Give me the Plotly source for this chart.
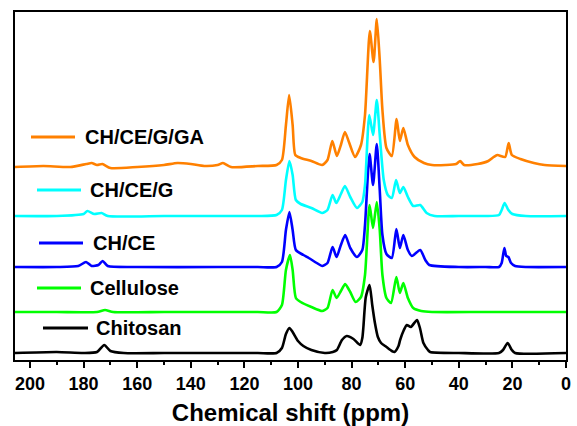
import plotly.graph_objects as go

# ---- data (chemical shift in ppm, intensity in arbitrary stacked units) ----
names = ["Chitosan", "Cellulose", "CH/CE", "CH/CE/G", "CH/CE/G/GA"]
colors = ["#000000", "#00FF00", "#0000FF", "#00FFFF", "#FF8000"]

chitosan_x = [205.6, 190, 180, 175, 172.3, 170, 165, 150, 130, 115, 108, 106, 104.5, 103.2, 102, 100, 98, 95, 90,
              87, 85.5, 83.6, 81.8, 79.3, 76.8, 76, 75.6, 74.7, 73.3, 72.3, 71.3, 70.2, 69, 67, 65, 64,
              62.5, 61.9, 60.5, 59.4, 57.9, 55.6, 54.5, 53.2, 51.5, 50.7, 40, 25, 23.5, 21.8, 20.2, 19, 0]
chitosan_y = [7, 8, 7, 8, 15, 9, 7, 7, 7, 7, 7, 12, 26, 32, 28, 19, 14, 10, 7,
              8, 10, 20, 24, 21, 15, 22, 33, 63, 75, 55, 37, 23, 17, 13, 9, 8,
              14, 20, 30, 35, 33, 40, 32, 17, 10, 8, 7, 7, 10, 17, 10, 7, 7]

cellulose_x = [205.6, 190, 175, 172, 169, 150, 130, 115, 108, 106, 104.5, 103, 102, 100.8, 99, 95, 91,
               89, 87.1, 85.6, 84, 82.4, 80.5, 78.5, 76.5, 75, 73.3, 72, 70.6, 69.5, 68.5, 67, 65.3,
               63.3, 62, 60.7, 59, 57, 54, 50, 30, 0]
cellulose_y = [48, 48, 48, 50, 48, 48, 48, 48, 48, 55, 90, 105, 90, 62, 58, 53, 49,
               52, 70, 62, 69, 76, 68, 58, 63, 85, 155, 132, 158, 130, 85, 62, 57,
               83, 67, 77, 62, 52, 49, 48, 48, 48]

chce_x = [205.6, 190, 182, 179.1, 177, 174.5, 172.9, 171, 160, 130, 115, 108, 106, 104.5, 103.2, 102, 100.8,
          98, 96, 93, 91, 89, 87.1, 85.6, 84, 82.4, 80.5, 78, 76, 75, 73.3, 72, 70.6, 69.5, 68.5, 67, 65,
          63.3, 62, 60.7, 59, 57.5, 54.4, 52.5, 51, 40, 30, 25, 24, 23, 22.3, 21.5, 20.5, 19, 15, 0]
chce_y = [93, 93, 94, 98, 94, 95, 99, 94, 93, 93, 93, 93, 98, 130, 148, 130, 110,
          105, 102, 97, 94, 97, 113, 103, 115, 125, 112, 103, 110, 135, 206, 175, 216, 170, 125, 106, 102,
          131, 112, 125, 110, 104, 110, 100, 95, 93, 93, 93, 97, 112, 104, 103, 97, 94, 93, 93]

chceg_x = [205.6, 190, 180, 178.6, 176, 173.3, 171, 150, 130, 115, 108, 106, 104.5, 103.2, 102, 100.8, 99,
           95, 91, 89, 87.1, 85.7, 84, 82.5, 80.5, 78, 76, 75, 73.4, 72, 70.6, 69.5, 68, 66.5, 65,
           63.4, 62, 60.7, 59, 57, 54.4, 52, 49, 40, 30, 25, 24, 22.9, 21.5, 20, 15, 0]
chceg_y = [144, 144, 146, 149, 146, 147, 144, 144, 144, 144, 145, 150, 180, 199, 185, 160, 156,
           152, 147, 150, 165, 157, 166, 174, 163, 152, 158, 175, 245, 225, 260, 225, 180, 165, 162,
           180, 167, 173, 163, 154, 155, 147, 144, 144, 144, 145, 150, 157, 150, 146, 144, 144]

chcegga_x = [205.6, 195, 185, 179, 177, 175, 173, 170, 160, 150, 145, 140, 135, 130, 128, 125, 115, 108,
             106, 104.5, 103.3, 102, 101, 99, 95, 91, 89, 87.2, 85.5, 84, 82.5, 81, 78.7, 76.5, 75,
             73.2, 71.8, 70.6, 69.5, 68.5, 67, 65, 63.2, 62, 60.7, 59, 56.5, 53, 50, 45, 41, 39.5, 38,
             33, 29, 27, 25.6, 22.7, 21.4, 20.2, 17, 12, 8, 0]
chcegga_y = [193, 194, 193, 196, 197, 195, 196, 192, 193, 195, 197, 196, 194, 195, 197, 193, 194, 195,
             200, 235, 265, 235, 205, 202, 199, 195, 200, 219, 204, 215, 228, 218, 203, 215, 245,
             329, 298, 341, 300, 250, 212, 204, 241, 219, 232, 215, 203, 197, 195, 195, 196, 199, 195,
             196, 199, 203, 205, 203, 217, 205, 201, 197, 195, 194]

xs = [chitosan_x, cellulose_x, chce_x, chceg_x, chcegga_x]
ys = [chitosan_y, cellulose_y, chce_y, chceg_y, chcegga_y]

tick_vals = [200, 180, 160, 140, 120, 100, 80, 60, 40, 20, 0]
tick_text = [str(v) for v in tick_vals]

# ---- figure ----
W, H = 577, 426
ML, MR, MT, MB = 15, 11, 12, 66
PW, PH = W - ML - MR, H - MT - MB

fig = go.Figure()
for name, c, x, y in zip(names, colors, xs, ys):
    fig.add_trace(go.Scatter(x=x, y=y, mode="lines", name=name,
                             line=dict(color=c, width=2.6, shape="spline", smoothing=0.6),
                             showlegend=False))

def px2paper(px, py):
    return (px - ML) / PW, (H - MB - py) / PH

# legend key positions (pixels): (line x0, line x1, y, text x)
legend_pos = {
    "CH/CE/G/GA": (31, 75, 137, 83),
    "CH/CE/G": (37, 81, 190, 88),
    "CH/CE": (39, 83, 243, 91),
    "Cellulose": (37, 81, 288, 88),
    "Chitosan": (43, 88, 328, 94),
}
for name, c in zip(names, colors):
    x0, x1, yy, tx = legend_pos[name]
    a0, b0 = px2paper(x0, yy)
    a1, _ = px2paper(x1, yy)
    fig.add_shape(type="line", xref="paper", yref="paper", x0=a0, x1=a1, y0=b0, y1=b0,
                  line=dict(color=c, width=3))
    ta, tb = px2paper(tx, yy)
    fig.add_annotation(xref="paper", yref="paper", x=ta, y=tb, text=name, showarrow=False,
                       xanchor="left", yanchor="middle",
                       font=dict(family="Liberation Sans", size=20, color="#000000", weight="bold"))

fig.update_layout(
    width=W, height=H,
    margin=dict(l=ML, r=MR, t=MT, b=MB, autoexpand=False),
    paper_bgcolor="white", plot_bgcolor="white",
    showlegend=False,
    font=dict(family="Liberation Sans", color="#000000"),
)
fig.update_xaxes(
    range=[205.6, 0], tickvals=tick_vals, ticktext=tick_text, automargin=False,
    showgrid=False, zeroline=False,
    showline=True, linecolor="black", linewidth=2, mirror=True,
    ticks="outside", ticklen=6, tickwidth=2, tickcolor="black",
    minor=dict(ticks="outside", ticklen=3, tickwidth=1.5, dtick=10, tick0=0, tickcolor="black", showgrid=False),
    tickfont=dict(family="Liberation Sans", size=18, color="black", weight="bold"),
    title=dict(text="Chemical shift (ppm)", standoff=14,
               font=dict(family="Liberation Sans", size=24, color="black", weight="bold")),
)
fig.update_yaxes(
    range=[0, 348], showgrid=False, zeroline=False, showticklabels=False, ticks="", automargin=False,
    showline=True, linecolor="black", linewidth=2, mirror=True,
)

fig.write_html("out.html", config={"displayModeBar": False},
               post_script="document.body.style.margin='0px';document.body.style.overflow='hidden';")
